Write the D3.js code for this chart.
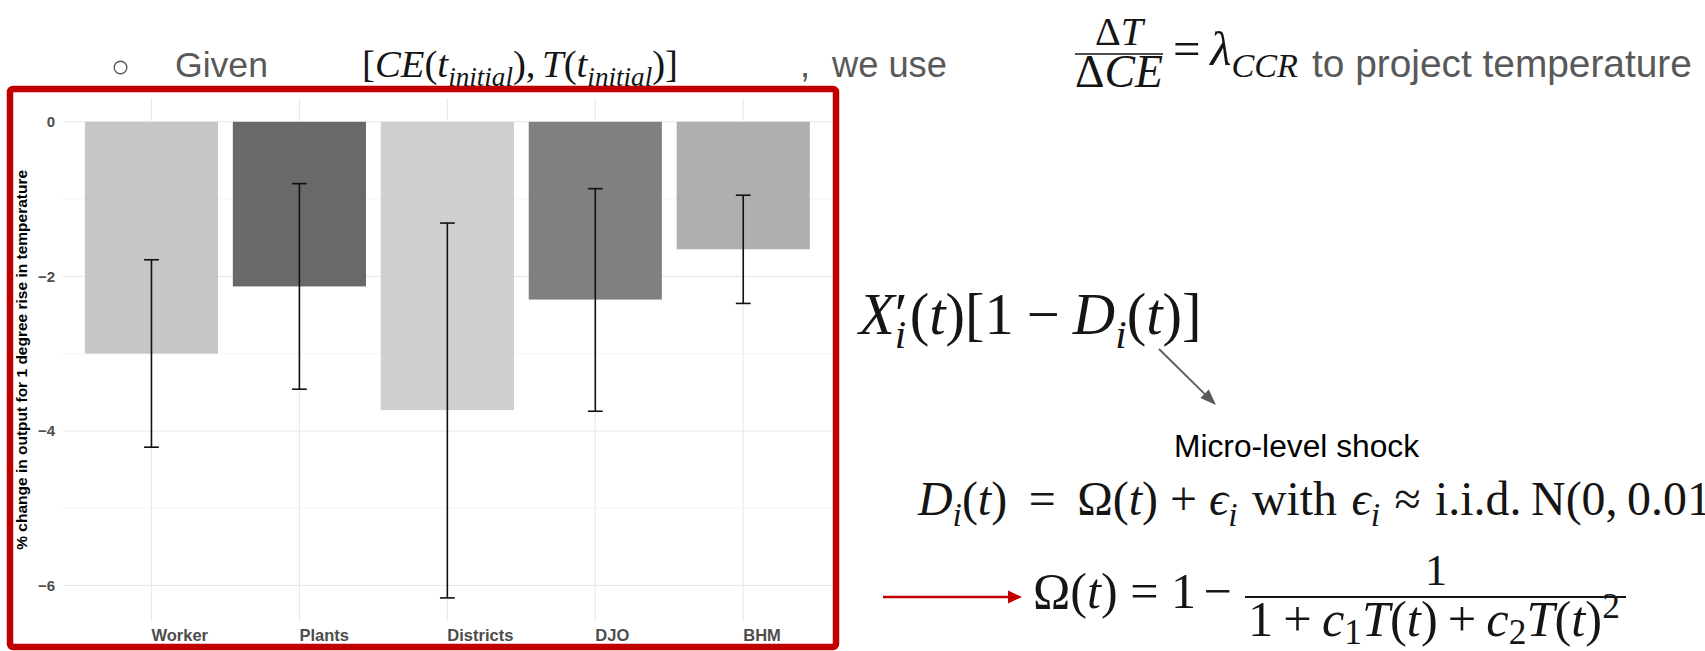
<!DOCTYPE html>
<html>
<head>
<meta charset="utf-8">
<script src="https://cdn.jsdelivr.net/npm/d3@7"></script>
<style>
  html, body { margin: 0; padding: 0; background: #fff; overflow: hidden; }
  svg { display: block; }
</style>
</head>
<body>
<svg id="slide" width="1705" height="651"></svg>
<script>
// Damage estimates: % change in output for a 1 degree rise in temperature
const categories = ["Worker", "Plants", "Districts", "DJO", "BHM"];
const estimates  = [-3.00, -2.13, -3.73, -2.30, -1.65];
const lowerCI    = [-4.21, -3.46, -6.16, -3.745, -2.35];
const upperCI    = [-1.785, -0.80, -1.31, -0.865, -0.95];
const barFills   = ["#c6c6c6", "#696969", "#cfcfcf", "#808080", "#afafaf"];
const yTicks      = [0, -2, -4, -6];
const yMinorTicks = [-1, -3, -5];
const yTitle = "% change in output for 1 degree rise in temperature";

const SANS  = "'Liberation Sans', Arial, Helvetica, sans-serif";
const SERIF = "'Liberation Serif', 'Times New Roman', 'DejaVu Serif', serif";

const svg = d3.select("#slide");

// ---------- bar chart ----------
const panel = { left: 62.7, right: 832, top: 98, bottom: 621.7 };
const yLo = Math.min(d3.min(lowerCI), 0), yHi = Math.max(d3.max(upperCI), 0);
const pad = 0.05 * (yHi - yLo);
const y = d3.scaleLinear().domain([yHi + pad, yLo - pad]).range([panel.top, panel.bottom]);
const x = d3.scaleBand().domain(categories).range([panel.left, panel.right])
  .paddingInner(0.1).paddingOuter(0.15);
const xc = c => x(c) + x.bandwidth() / 2;

const chart = svg.append("g");
const rows = categories.map((c, i) => ({ c, est: estimates[i], lo: lowerCI[i], hi: upperCI[i], fill: barFills[i] }));

// grid
chart.append("g").selectAll("line").data(yMinorTicks).join("line")
  .attr("x1", panel.left).attr("x2", panel.right)
  .attr("y1", d => y(d)).attr("y2", d => y(d))
  .attr("stroke", "#ececec").attr("stroke-width", 0.6);
chart.append("g").selectAll("line").data(yTicks).join("line")
  .attr("x1", panel.left).attr("x2", panel.right)
  .attr("y1", d => y(d)).attr("y2", d => y(d))
  .attr("stroke", "#e9e9e9").attr("stroke-width", 1.1);
chart.append("g").selectAll("line").data(categories).join("line")
  .attr("x1", d => xc(d)).attr("x2", d => xc(d))
  .attr("y1", panel.top).attr("y2", panel.bottom)
  .attr("stroke", "#e9e9e9").attr("stroke-width", 1.1);

// bars
chart.append("g").selectAll("rect").data(rows).join("rect")
  .attr("x", d => x(d.c)).attr("width", x.bandwidth())
  .attr("y", d => y(Math.max(0, d.est))).attr("height", d => Math.abs(y(d.est) - y(0)))
  .attr("fill", d => d.fill);

// error bars
const capW = x.step() * 0.1;
const eb = chart.append("g").attr("stroke", "#111").attr("stroke-width", 1.6);
eb.selectAll("line.v").data(rows).join("line").attr("class", "v")
  .attr("x1", d => xc(d.c)).attr("x2", d => xc(d.c))
  .attr("y1", d => y(d.hi)).attr("y2", d => y(d.lo));
eb.selectAll("line.t").data(rows).join("line").attr("class", "t")
  .attr("x1", d => xc(d.c) - capW / 2).attr("x2", d => xc(d.c) + capW / 2)
  .attr("y1", d => y(d.hi)).attr("y2", d => y(d.hi));
eb.selectAll("line.b").data(rows).join("line").attr("class", "b")
  .attr("x1", d => xc(d.c) - capW / 2).attr("x2", d => xc(d.c) + capW / 2)
  .attr("y1", d => y(d.lo)).attr("y2", d => y(d.lo));

// axes
const ya = chart.append("g").attr("transform", `translate(${panel.left},0)`)
  .call(d3.axisLeft(y).tickValues(yTicks).tickSize(0).tickPadding(7.7).tickFormat(d3.format("d")));
ya.select(".domain").remove();
ya.selectAll("text").attr("font-family", SANS).attr("font-size", 15).attr("font-weight", "bold").attr("fill", "#4d4d4d");

const xa = chart.append("g").attr("transform", `translate(0,${panel.bottom})`)
  .call(d3.axisBottom(x).tickSize(0));
xa.select(".domain").remove();
xa.selectAll("text").attr("text-anchor", "start").attr("y", 19.3).attr("dy", 0)
  .attr("font-family", SANS).attr("font-size", 16.5).attr("font-weight", "bold").attr("fill", "#4d4d4d");

chart.append("text")
  .attr("transform", `translate(27,${(panel.top + panel.bottom) / 2}) rotate(-90)`)
  .attr("text-anchor", "middle").attr("font-family", SANS).attr("font-size", 15.5)
  .attr("font-weight", "bold").attr("fill", "#000").text(yTitle);

// red highlight frame
svg.append("rect").attr("x", 10).attr("y", 89).attr("width", 826).attr("height", 558)
  .attr("rx", 3).attr("fill", "none").attr("stroke", "#c00000").attr("stroke-width", 6.5);

// ---------- math helpers ----------
function mathText(parent, parts, o) {
  const draw = s => {
    const t = parent.append("text").attr("x", o.x).attr("y", o.y)
      .attr("font-family", SERIF).attr("font-size", s).attr("fill", o.fill || "#151515")
      .attr("text-anchor", o.anchor || "start");
    let cur = 0;
    parts.forEach(([str, kind = "i", gap = 0]) => {
      const isSub = kind === "sub" || kind === "subr";
      const small = isSub || kind === "sup";
      const off = kind === "sub" ? 0.24 * s : kind === "subr" ? 0.15 * s : kind === "sup" ? -0.36 * s : 0;
      t.append("tspan").attr("dx", gap * s).attr("dy", off - cur)
        .attr("font-size", small ? 0.7 * s : s)
        .attr("font-style", (kind === "i" || kind === "sub") ? "italic" : "normal")
        .text(str);
      cur = off;
    });
    return t;
  };
  let t = draw(o.size);
  if (o.width) {
    const w = t.node().getBBox().width;
    t.remove();
    t = draw(o.size * o.width / w);
  }
  return t;
}

function arrow(g, x1, y1, x2, y2, color, w, headLen, headW) {
  const a = Math.atan2(y2 - y1, x2 - x1);
  const bx = x2 - headLen * Math.cos(a), by = y2 - headLen * Math.sin(a);
  g.append("line").attr("x1", x1).attr("y1", y1).attr("x2", bx).attr("y2", by)
    .attr("stroke", color).attr("stroke-width", w);
  const px = Math.sin(a) * headW / 2, py = -Math.cos(a) * headW / 2;
  g.append("polygon")
    .attr("points", `${x2},${y2} ${bx + px},${by + py} ${bx - px},${by - py}`)
    .attr("fill", color);
}

function sansText(parent, str, o) {
  const t = parent.append("text").attr("x", o.x).attr("y", o.y)
    .attr("font-family", SANS).attr("font-size", o.size).attr("fill", o.fill || "#595959").text(str);
  if (o.width) {
    const w = t.node().getBBox().width;
    t.attr("font-size", o.size * o.width / w);
  }
  return t;
}

// ---------- header line ----------
const head = svg.append("g");
head.append("circle").attr("cx", 120.5).attr("cy", 67.5).attr("r", 6.3)
  .attr("fill", "none").attr("stroke", "#595959").attr("stroke-width", 1.4);
sansText(head, "Given", { x: 175, y: 77, size: 36, width: 93 });
mathText(head, [["[", "r"], ["CE", "i"], ["(", "r"], ["t", "i"], ["initial", "sub"], [")", "r"],
  [",", "r"], ["T", "i", 0.17], ["(", "r"], ["t", "i"], ["initial", "sub"], [")]", "r"]],
  { x: 362, y: 77, size: 38, width: 316 });
sansText(head, ",", { x: 800, y: 77, size: 36 });
sansText(head, "we use", { x: 832, y: 77, size: 36, width: 116 });

// ΔT / ΔCE = λ_CCR
mathText(head, [["Δ", "r"], ["T", "i"]], { x: 1119, y: 45, size: 40, anchor: "middle" });
head.append("line").attr("x1", 1075).attr("x2", 1163).attr("y1", 54).attr("y2", 54)
  .attr("stroke", "#151515").attr("stroke-width", 1.6);
mathText(head, [["Δ", "r"], ["CE", "i"]], { x: 1119, y: 87, size: 40, anchor: "middle", width: 88 });
mathText(head, [["=", "r"], ["λ", "i", 0.2], ["CCR", "sub"]], { x: 1173, y: 65, size: 40, width: 125 });
sansText(head, "to project temperature", { x: 1312, y: 77, size: 36, width: 380 });

// ---------- model equations ----------
const eq = svg.append("g");
mathText(eq, [["X", "i"], ["′", "r"], ["i", "sub", -0.22], ["(", "r", 0.06], ["t", "i"], [")[1", "r"],
  ["−", "r", 0.22], ["D", "i", 0.22], ["i", "sub"], ["(", "r"], ["t", "i"], [")]", "r"]],
  { x: 859, y: 334, size: 48, width: 345 });
arrow(eq, 1159, 349, 1216, 405, "#595959", 1.8, 16, 12);

eq.append("text").attr("x", 1174).attr("y", 457)
  .attr("font-family", SANS).attr("font-size", 31).attr("fill", "#000")
  .attr("textLength", 245).attr("lengthAdjust", "spacingAndGlyphs").text("Micro-level shock");

mathText(eq, [["D", "i"], ["i", "sub"], ["(", "r"], ["t", "i"], [")", "r"],
  ["=", "r", 0.45], ["Ω", "r", 0.45], ["(", "r"], ["t", "i"], [")", "r"],
  ["+", "r", 0.25], ["ϵ", "i", 0.25], ["i", "sub"], ["with", "r", 0.3],
  ["ϵ", "i", 0.3], ["i", "sub"], ["≈", "r", 0.3], ["i.i.d.", "r", 0.3],
  ["N(0,", "r", 0.2], ["0.01)", "r", 0.2]],
  { x: 918, y: 515, size: 44, width: 810 });

arrow(eq, 883, 597, 1022, 597, "#c00000", 2.4, 14, 13);
mathText(eq, [["Ω", "r"], ["(", "r"], ["t", "i"], [")", "r"], ["=", "r", 0.25], ["1", "r", 0.25], ["−", "r", 0.15]],
  { x: 1033, y: 608, size: 44, width: 199 });
mathText(eq, [["1", "r"]], { x: 1436, y: 585, size: 44, anchor: "middle" });
eq.append("line").attr("x1", 1245).attr("x2", 1626).attr("y1", 597).attr("y2", 597)
  .attr("stroke", "#151515").attr("stroke-width", 1.8);
mathText(eq, [["1", "r"], ["+", "r", 0.2], ["c", "i", 0.2], ["1", "subr"], ["T", "i"], ["(", "r"], ["t", "i"], [")", "r"],
  ["+", "r", 0.2], ["c", "i", 0.2], ["2", "subr"], ["T", "i"], ["(", "r"], ["t", "i"], [")", "r"], ["2", "sup"]],
  { x: 1248, y: 636, size: 44, width: 372 });
</script>
</body>
</html>
